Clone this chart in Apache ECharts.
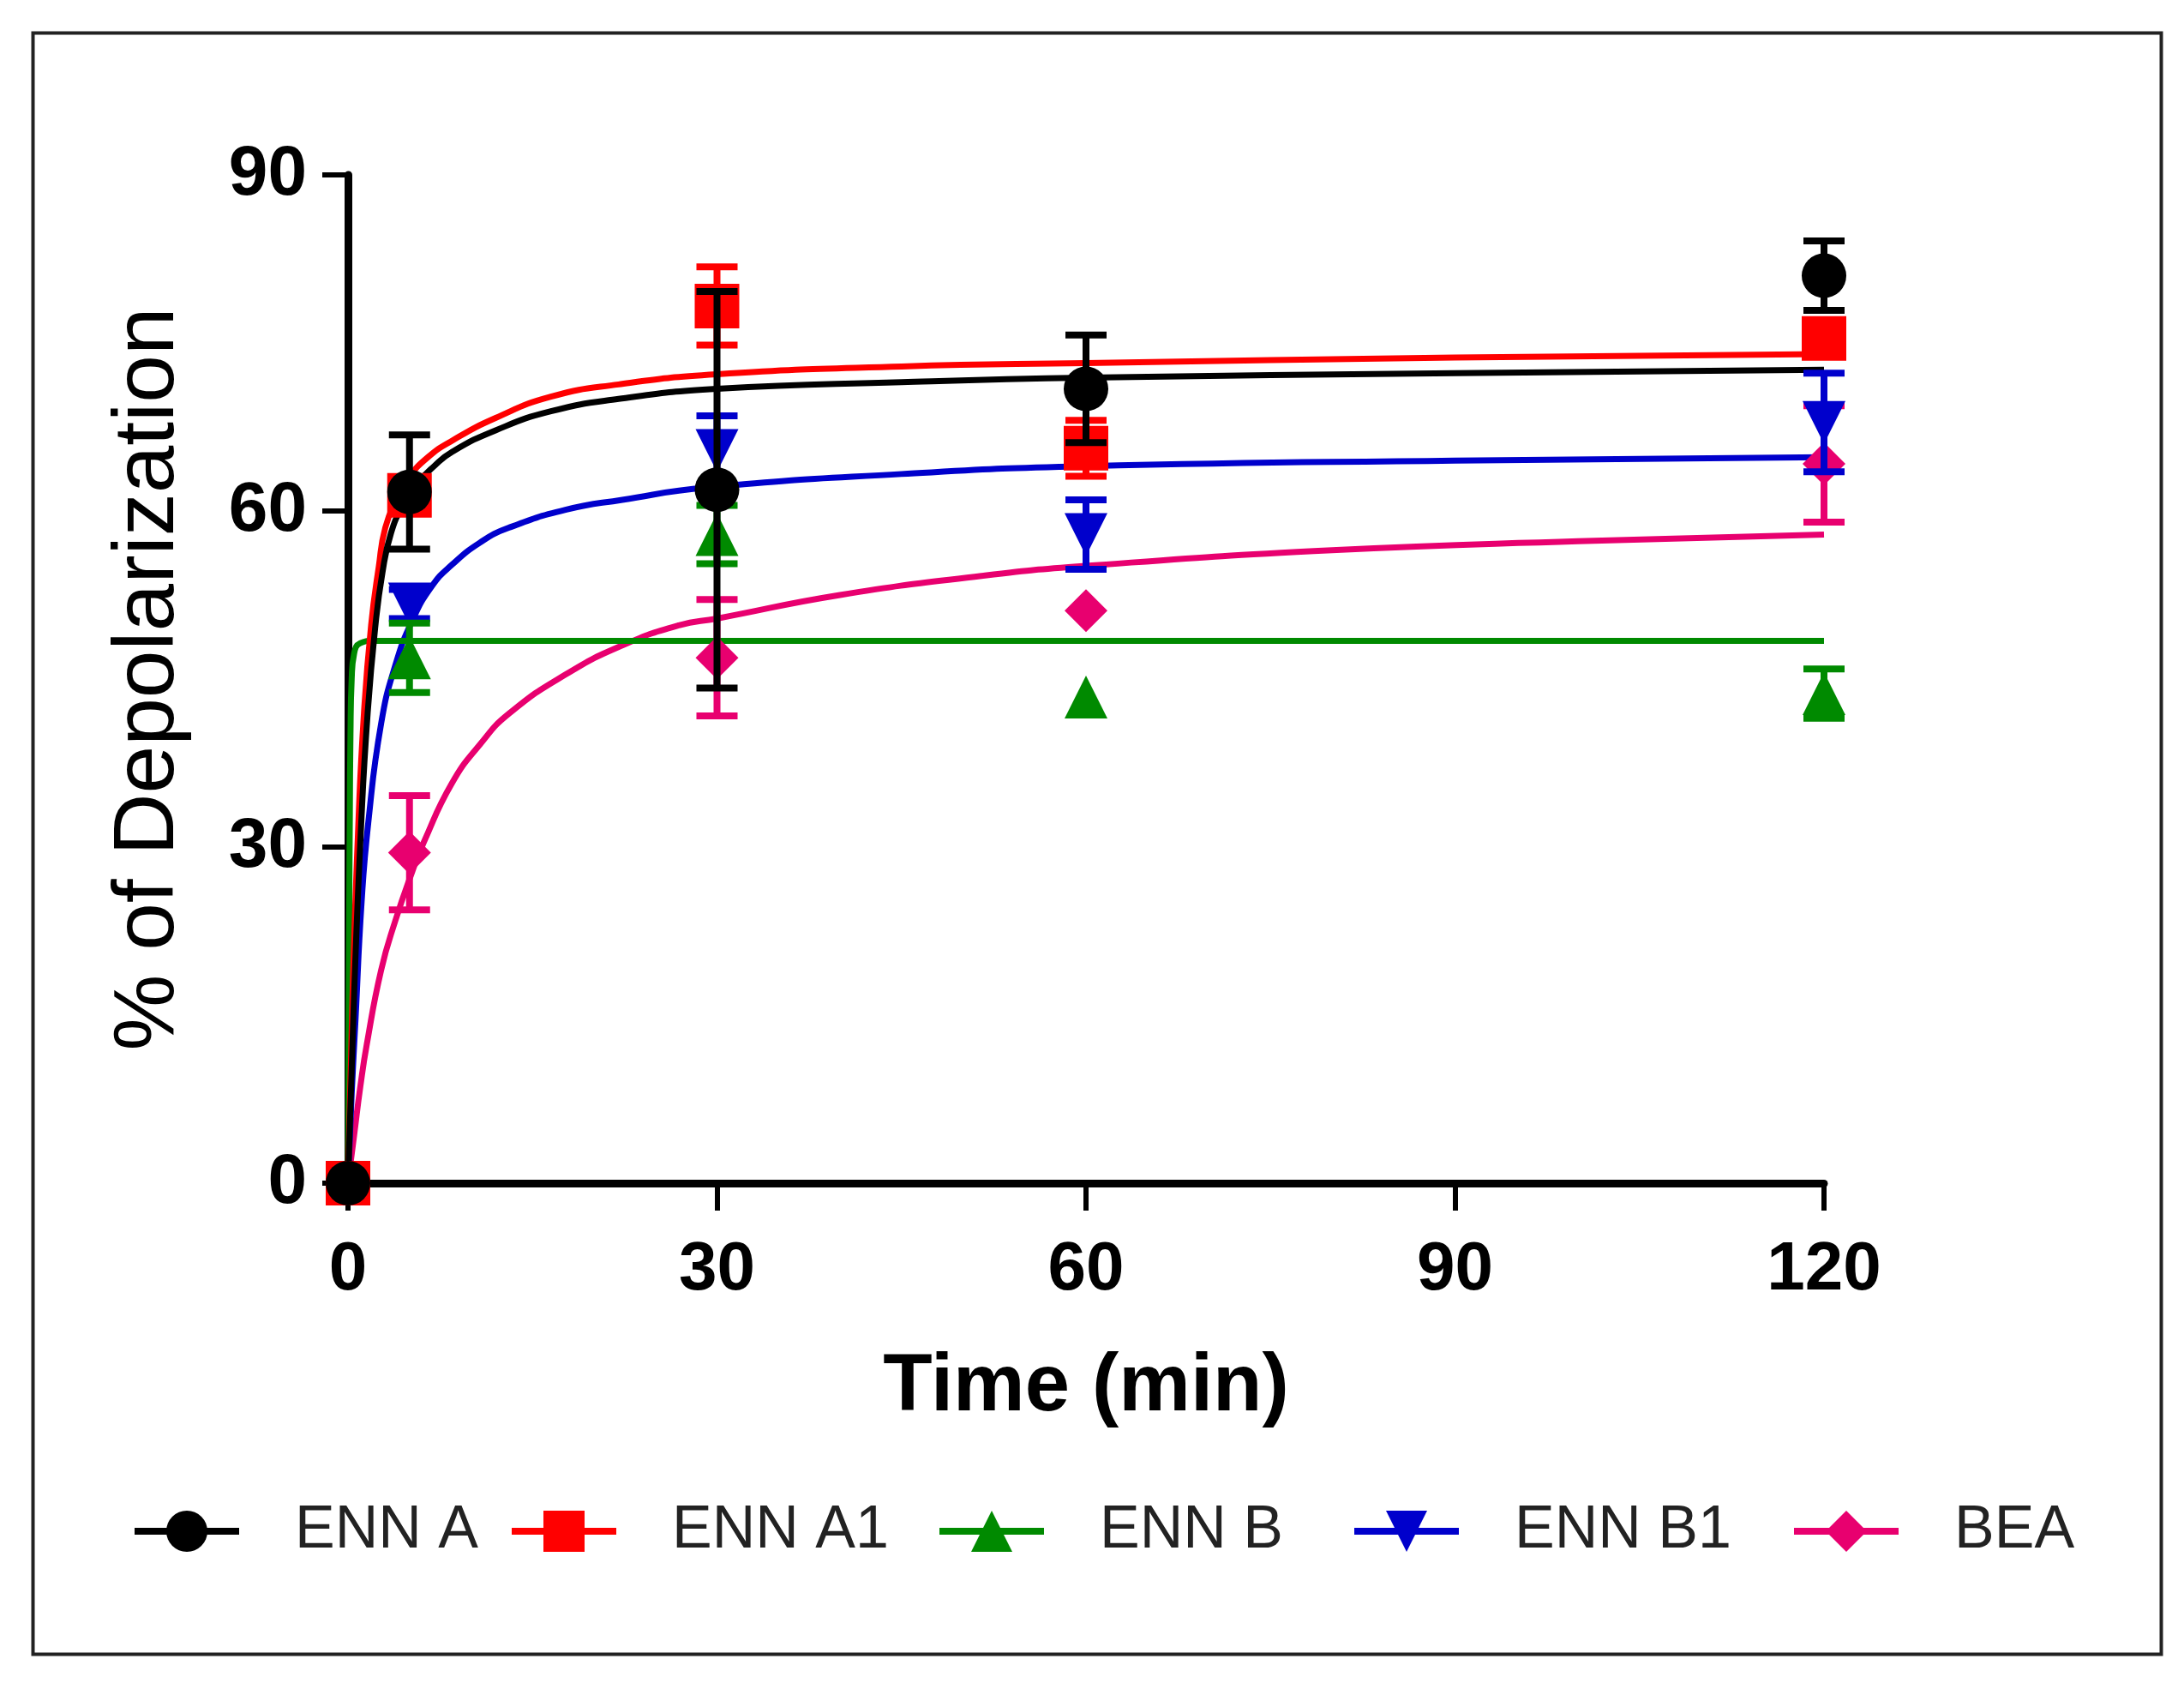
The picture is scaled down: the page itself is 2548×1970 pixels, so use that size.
<!DOCTYPE html>
<html>
<head>
<meta charset="utf-8">
<script src="https://cdn.jsdelivr.net/npm/echarts@6/dist/echarts.min.js"></script>
<style>
html,body{margin:0;padding:0;background:#fff;}
#chart{width:2548px;height:1970px;}
</style>
</head>
<body>
<div id="chart"></div>
<script>
// ---- data ----
const seriesNames = ['ENN A', 'ENN A1', 'ENN B', 'ENN B1', 'BEA'];
const timePoints = [0, 5, 30, 60, 120];

const ennA = [0, 61.7, 61.9, 70.9, 81.0];
const ennAErr = [0, 5.1, 17.7, 4.8, 3.1];
const ennA1 = [0, 61.4, 78.3, 65.6, 75.4];
const ennA1Err = [0, 0, 3.5, 2.5, 0];
const ennB = [0, 46.9, 57.9, 43.4, 43.7];
const ennBErr = [0, 3.1, 2.6, 0, 2.2];
const ennB1 = [0, 51.7, 65.4, 57.9, 67.9];
const ennB1Err = [0, 1.3, 3.1, 3.1, 4.4];
const bea = [0, 29.5, 46.9, 51.1, 64.2];
const beaErr = [0, 5.1, 5.2, 0, 5.2];

// fitted curves
const ennAFitT = [0, 0.5, 1.07, 1.6, 2.23, 2.8, 3.49, 4.5, 5.5, 7, 8.5, 12, 16.5, 22, 30, 45, 60, 90, 120];
const ennAFitY = [0, 17, 32, 42, 49.8, 54.5, 58.0, 60.6, 62.3, 64.0, 65.3, 67.2, 68.9, 70.0, 70.9, 71.5, 71.9, 72.3, 72.6];
const ennA1FitT = [0, 0.4, 0.84, 1.3, 1.88, 2.5, 3.03, 4, 4.87, 6.5, 8.5, 12, 16.5, 22, 30, 45, 60, 90, 120];
const ennA1FitY = [0, 18, 32, 42, 49.8, 55, 58.5, 61.2, 62.9, 64.8, 66.3, 68.3, 70.2, 71.3, 72.2, 72.9, 73.2, 73.7, 74.0];
const ennBFitT = [0, 0.05, 0.1, 0.15, 0.2, 0.3, 0.5, 1, 2, 30, 60, 120];
const ennBFitY = [0, 12, 24, 33, 40, 45, 47.3, 48.2, 48.4, 48.4, 48.4, 48.4];
const ennB1FitT = [0, 0.3, 0.61, 1.1, 1.65, 2.69, 3.84, 5.22, 6.83, 8.45, 10.76, 13.07, 17.68, 22.3, 29.2, 45, 60, 90, 120];
const ennB1FitY = [0, 8, 14.6, 25, 32.2, 41, 46.2, 50.2, 53.3, 55.2, 57.2, 58.5, 60.1, 61.0, 62.1, 63.3, 64.0, 64.5, 64.8];
const beaFitT = [0, 0.5, 1.0, 1.53, 2.69, 3.84, 5.22, 6.15, 8.45, 10.76, 13.07, 17.68, 22.3, 26.9, 30, 40, 51.5, 60, 80, 100, 120];
const beaFitY = [0, 4.3, 8.6, 12.4, 19.0, 23.4, 27.8, 30.4, 35.7, 39.2, 41.9, 45.4, 48.0, 49.8, 50.4, 52.5, 54.2, 55.1, 56.5, 57.3, 57.9];

const xTicks = [0, 30, 60, 90, 120];
const yTicks = [0, 30, 60, 90];

// ---- styling ----
const groups = [
  { name: 'BEA', color: '#e8006f', symbol: 'diamond', rot: 0, size: 50, y: bea, err: beaErr, ft: beaFitT, fy: beaFitY },
  { name: 'ENN B1', color: '#0000cc', symbol: 'triangle', rot: 180, size: 50, y: ennB1, err: ennB1Err, ft: ennB1FitT, fy: ennB1FitY },
  { name: 'ENN B', color: '#008a00', symbol: 'triangle', rot: 0, size: 50, y: ennB, err: ennBErr, ft: ennBFitT, fy: ennBFitY },
  { name: 'ENN A1', color: '#ff0000', symbol: 'rect', rot: 0, size: 52, y: ennA1, err: ennA1Err, ft: ennA1FitT, fy: ennA1FitY },
  { name: 'ENN A', color: '#000000', symbol: 'circle', rot: 0, size: 52, y: ennA, err: ennAErr, ft: ennAFitT, fy: ennAFitY }
];

const sans = "'Liberation Sans', Arial, sans-serif";

const series = [];
groups.forEach((g, gi) => {
  series.push({
    type: 'line', name: g.name,
    data: g.ft.map((t, i) => [t, g.fy[i]]),
    smooth: 0.5,
    showSymbol: false, symbol: g.symbol, symbolRotate: g.rot,
    lineStyle: { color: g.color, width: 7 },
    itemStyle: { color: g.color },
    silent: true, animation: false, z: 2
  });
  series.push({
    type: 'custom', name: g.name,
    data: timePoints.map((t, i) => [t, g.y[i], g.err[i]]),
    renderItem: function (params, api) {
      const x = api.value(0), y = api.value(1), e = api.value(2);
      if (!e) return null;
      const top = api.coord([x, y + e]);
      const bot = api.coord([x, y - e]);
      const hw = 24;
      const st = { stroke: g.color, lineWidth: 8 };
      return {
        type: 'group',
        children: [
          { type: 'line', shape: { x1: top[0], y1: top[1], x2: bot[0], y2: bot[1] }, style: st },
          { type: 'line', shape: { x1: top[0] - hw, y1: top[1], x2: top[0] + hw, y2: top[1] }, style: st },
          { type: 'line', shape: { x1: bot[0] - hw, y1: bot[1], x2: bot[0] + hw, y2: bot[1] }, style: st }
        ]
      };
    },
    animation: false, silent: true, z: 3 + gi * 2
  });
  series.push({
    type: 'scatter', name: g.name,
    data: timePoints.map((t, i) => [t, g.y[i]]),
    symbol: g.symbol, symbolRotate: g.rot, symbolSize: g.size,
    itemStyle: { color: g.color, opacity: 1 },
    clip: false, animation: false, silent: true, z: 4 + gi * 2
  });
});

const legendLeft = [148, 588, 1087, 1571, 2084];
const legends = seriesNames.map((n, i) => ({
  data: [n], left: legendLeft[i], top: 1746,
  orient: 'horizontal', itemWidth: 122, itemHeight: 60,
  selectedMode: false,
  lineStyle: { width: 8 },
  textStyle: { fontFamily: sans, fontSize: 70, color: '#222', padding: [0, 0, 0, 60] }
}));

const chart = echarts.init(document.getElementById('chart'), null, { renderer: 'canvas' });
chart.setOption({
  backgroundColor: '#fff',
  animation: false,
  grid: { left: 406, right: 420, top: 204, bottom: 590, containLabel: false },
  xAxis: {
    type: 'value', min: xTicks[0], max: xTicks[xTicks.length - 1], interval: 30,
    name: 'Time (min)', nameLocation: 'middle', nameGap: 192,
    nameTextStyle: { fontFamily: sans, fontSize: 94, fontWeight: 'bold', color: '#000' },
    axisLine: { show: true, lineStyle: { color: '#000', width: 9 } },
    axisTick: { show: true, length: 32, lineStyle: { color: '#000', width: 6 } },
    axisLabel: { fontFamily: sans, fontSize: 80, fontWeight: 'bold', color: '#000', margin: 62 },
    splitLine: { show: false }
  },
  yAxis: {
    type: 'value', min: yTicks[0], max: yTicks[yTicks.length - 1], interval: 30,
    name: '% of Depolarization', nameLocation: 'middle', nameGap: 182,
    nameTextStyle: { fontFamily: sans, fontSize: 100, color: '#000' },
    axisLine: { show: true, lineStyle: { color: '#000', width: 9 } },
    axisTick: { show: true, length: 30, lineStyle: { color: '#000', width: 6 } },
    axisLabel: { fontFamily: sans, fontSize: 82, fontWeight: 'bold', color: '#000', margin: 48 },
    splitLine: { show: false }
  },
  legend: legends,
  graphic: [{
    type: 'rect', left: 36, top: 36, silent: true,
    shape: { width: 2483, height: 1891 },
    style: { fill: 'none', stroke: '#222', lineWidth: 4 }
  }],
  series: series
});
</script>
</body>
</html>
